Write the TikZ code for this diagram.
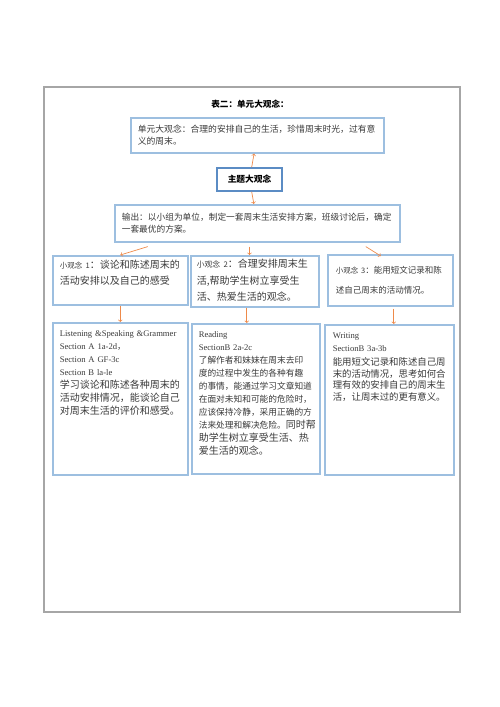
\documentclass[tikz,border=0pt]{standalone}
\usepackage{fontspec}
\setmainfont{Liberation Serif}
\newfontfamily\zh{Noto Sans CJK SC}
\usepackage{tikz}
\usetikzlibrary{shapes,arrows,positioning}
\definecolor{frame}{HTML}{A6A6A6}
\definecolor{boxblue}{HTML}{9DBFE0}
\definecolor{themeblue}{HTML}{5B8CC4}
\definecolor{arrorange}{HTML}{EE8A4A}
\definecolor{txt}{HTML}{3A3A3A}

\begin{document}
\begin{tikzpicture}[x=1pt, y=-1pt,
        box/.style={rectangle, draw=boxblue, line width=1.6pt, fill=white, anchor=north west, align=left, inner xsep=7pt, inner ysep=5pt, text=txt},
        topbox/.style={box, text height=8pt},
        arrow/.style={->, draw=arrorange, line width=0.7pt, >=to}
    ]
        \useasboundingbox (0,0) rectangle (500,707);
        \draw[frame, line width=1.2pt] (44,87) rectangle (460,612);

        \node[font=\zh\bfseries\fontsize{8.6}{10}\selectfont] (title) at (250,104) {表二：单元大观念：};

        \node[box, text width=239pt, minimum height=35pt, font=\zh\fontsize{8.8}{12}\selectfont] (unit) at (130,117) {单元大观念：合理的安排自己的生活，珍惜周末时光，过有意\\义的周末。};
        \node[box, draw=themeblue, anchor=center, minimum width=65pt, minimum height=23pt, inner sep=2pt, text=black, font=\zh\bfseries\fontsize{8.7}{10}\selectfont] (theme) at (249.5,179.5) {主题大观念};
        \node[box, text width=271pt, minimum height=37pt, font=\zh\fontsize{8.7}{12}\selectfont] (out) at (114,204) {输出：以小组为单位，制定一套周末生活安排方案，班级讨论后，确定\\一套最优的方案。};

        % small ideas
        \node[topbox, text width=121pt, text depth=31pt, inner ysep=5pt, font=\zh\fontsize{10}{16}\selectfont] (s1) at (52,255) {{\fontsize{7.5}{10}\selectfont 小观念 1}：谈论和陈述周末的\\活动安排以及自己的感受};
        \node[topbox, text width=116pt, text depth=35pt, inner xsep=6pt, inner ysep=4pt, font=\zh\fontsize{10}{16.5}\selectfont] (s2) at (190,255) {{\fontsize{7.8}{10}\selectfont 小观念 2}：合理安排周末生\\活,帮助学生树立享受生\\活、热爱生活的观念。};
        \node[box, text width=109pt, minimum height=51pt, inner xsep=8pt, font=\zh\fontsize{8.5}{20}\selectfont] (s3) at (327,254) {{\fontsize{7.5}{10}\selectfont 小观念 3}：能用短文记录和陈\\述自己周末的活动情况。};

        % sections
        \node[topbox, text width=121pt, text depth=132pt, inner ysep=6pt, font=\fontsize{8.6}{13}\selectfont] (b1) at (52,322) {\mbox{Listening \&Speaking \&Grammer}\\Section A 1a-2d{\zh，}\\Section A GF-3c\\Section B la-le\\\zh\fontsize{10}{13}\selectfont 学习谈论和陈述各种周末的\\活动安排情况，能谈论自己\\对周末生活的评价和感受。};
        \node[topbox, text width=114pt, text depth=130pt, inner ysep=6pt, font=\fontsize{8.6}{13}\selectfont] (b2) at (191,323) {Reading\\SectionB 2a-2c\\\zh\fontsize{8.7}{13}\selectfont 了解作者和妹妹在周末去印\\度的过程中发生的各种有趣\\的事情，能通过学习文章知道\\在面对未知和可能的危险时，\\应该保持冷静，采用正确的方\\法来处理和解决危险。{\fontsize{10}{13}\selectfont 同时帮}\\{\fontsize{10}{13}\selectfont 助学生树立享受生活、热}\\{\fontsize{10}{13}\selectfont 爱生活的观念。}};
        \node[topbox, text width=113pt, text depth=130pt, inner xsep=8pt, inner ysep=6pt, font=\fontsize{8.6}{11.5}\selectfont] (b3) at (324,324) {Writing\\[1.5pt]SectionB 3a-3b\\[2.5pt]\zh\fontsize{9.4}{11.5}\selectfont 能用短文记录和陈述自己周\\末的活动情况，思考如何合\\理有效的安排自己的周末生\\活，让周末过的更有意义。};

        \draw[arrow] (theme) -- (unit);
        \draw[arrow] (theme) -- (out);
        \draw[arrow] ([xshift=-109.5pt, yshift=-4pt]out.south) -- (s1.north);
        \draw[arrow] ([yshift=-4pt]out.south -| theme.south) -- (theme.south |- s2.north);
        \draw[arrow] ([xshift=108.5pt, yshift=-4pt]out.south) -- ([xshift=-9.5pt, yshift=-2pt]s3.north);
        \draw[arrow] (s1) -- (b1);
        \draw[arrow] ([xshift=-8pt]s2.south) -- ([xshift=-9pt]b2.north);
        \draw[arrow] ([xshift=3.5pt, yshift=-2pt]s3.south) -- ([xshift=4.5pt]b3.north);
    \end{tikzpicture}
\end{document}
